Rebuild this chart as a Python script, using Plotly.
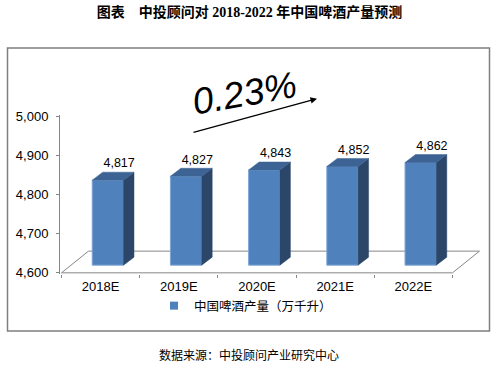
import plotly.graph_objects as go

# ---- data ----
categories = ["2018E", "2019E", "2020E", "2021E", "2022E"]
values = [4817, 4827, 4843, 4852, 4862]
series_name = "中国啤酒产量（万千升）"
growth_label = "0.23%"
y_ticks = [4600, 4700, 4800, 4900, 5000]
title_text = "图表　中投顾问对 2018-2022 年中国啤酒产量预测"
source_text = "数据来源：中投顾问产业研究中心"

# ---- style / geometry constants ----
W, H = 495, 372
ML, MR, MT, MB = 60, 10, 115, 98
PW, PH = W - ML - MR, H - MT - MB
Y0 = 4600
YR = [4597, 5003]
XR = [-0.519, -0.519 + PW / 78.2]
FRONT, SIDE, TOP, EDGE = "#4F81BD", "#2B4668", "#3C6394", "#7EA6D6"
AXC = "#868686"
LIFT = 19.6          # front face lifted (value units)
OFF, BW = -0.107, 0.40
DX, DY = 0.134, 20.4  # bar depth
FDX, FDY = 0.345, 55.4  # floor depth


def px2paper_x(px):
    return (px - ML) / PW


def px2paper_y(py):
    return (H - MB - py) / PH


n = len(categories)
xs = list(range(n))

fig = go.Figure()

# front faces
fig.add_trace(go.Bar(
    x=xs, y=[v - Y0 for v in values], base=Y0 + LIFT,
    width=BW, offset=OFF,
    marker=dict(color=FRONT, line=dict(color=EDGE, width=1)),
    showlegend=False, hoverinfo="skip",
))

# side and top faces
for i, v in enumerate(values):
    xl = xs[i] + OFF
    xr = xl + BW
    b = Y0 + LIFT
    t = v + LIFT
    fig.add_trace(go.Scatter(
        x=[xr, xr + DX, xr + DX, xr, xr], y=[b, b + DY, t + DY, t, b],
        fill="toself", fillcolor=SIDE, mode="lines",
        line=dict(color=SIDE, width=0.5), showlegend=False, hoverinfo="skip"))
    fig.add_trace(go.Scatter(
        x=[xl, xr, xr + DX, xl + DX, xl], y=[t, t, t + DY, t + DY, t],
        fill="toself", fillcolor=TOP, mode="lines",
        line=dict(color=TOP, width=0.5), showlegend=False, hoverinfo="skip"))

# value labels
fig.add_trace(go.Scatter(
    x=[x + 0.237 for x in xs], y=[v + 60 for v in values],
    mode="text", text=[f"{v:,}" for v in values],
    textposition="middle center",
    textfont=dict(family="Liberation Sans, Arial", size=12.5, color="#000"),
    showlegend=False, hoverinfo="skip", cliponaxis=False))

# legend entry
fig.add_trace(go.Scatter(
    x=[None], y=[None], mode="markers", name=series_name,
    marker=dict(symbol="square", size=8, color=FRONT)))

# floor (axis decoration)
x_lo, x_hi = -0.5, n - 0.5
floor_lines = [
    (x_lo, Y0, x_hi, Y0),
    (x_lo + FDX, Y0 + FDY, x_hi + FDX, Y0 + FDY),
    (x_lo, Y0, x_lo + FDX, Y0 + FDY),
    (x_hi, Y0, x_hi + FDX, Y0 + FDY),
]
shapes = []
for (a, b, c, d) in floor_lines:
    shapes.append(dict(type="line", xref="x", yref="y", x0=a, y0=b, x1=c, y1=d,
                       line=dict(color=AXC, width=1), layer="below"))

# outer frame
shapes.append(dict(type="rect", xref="paper", yref="paper",
                   x0=px2paper_x(7.5), x1=px2paper_x(489.5),
                   y0=px2paper_y(331), y1=px2paper_y(48),
                   line=dict(color="#7f7f7f", width=1.5), layer="below"))

annotations = [
    # arrow
    dict(xref="paper", yref="paper", x=px2paper_x(317), y=px2paper_y(98.7),
         ax=-125, ay=34, axref="pixel", ayref="pixel", text="",
         showarrow=True, arrowhead=2, arrowsize=1, arrowwidth=1.3,
         arrowcolor="#000", standoff=0),
    dict(xref="paper", yref="paper", x=px2paper_x(244), y=px2paper_y(93),
         xanchor="center", yanchor="middle",
         text="<i>" + growth_label + "</i>", showarrow=False, textangle=-10,
         font=dict(family="Liberation Sans, Arial", size=37, color="#000",
                   style="italic")),
    dict(xref="paper", yref="paper", x=px2paper_x(249), y=px2paper_y(354),
         xanchor="center", yanchor="middle",
         text=source_text, showarrow=False,
         font=dict(family="Noto Sans CJK SC", size=12, color="#000")),
]

fig.update_layout(
    width=W, height=H,
    margin=dict(l=ML, r=MR, t=MT, b=MB, pad=0, autoexpand=False),
    paper_bgcolor="white", plot_bgcolor="white",
    title=dict(text=title_text, x=249.5 / W, xanchor="center",
               y=1 - 12.5 / H, yanchor="middle", xref="container", yref="container",
               font=dict(family="Liberation Serif, Noto Sans CJK SC", size=14,
                         color="#000", weight="bold")),
    xaxis=dict(range=XR, showgrid=False, zeroline=False, showline=False,
               tickvals=xs, ticktext=categories, ticks="",
               tickfont=dict(family="Liberation Sans, Arial", size=13, color="#000"),
               ticklabelstandoff=3,
               minor=dict(tickvals=[x - 0.5 for x in xs] + [n - 0.5],
                          ticks="outside", ticklen=3, tickcolor=AXC, tickwidth=1)),
    yaxis=dict(range=YR, showgrid=False, zeroline=False, showline=True,
               linecolor=AXC, linewidth=1, ticks="outside", ticklen=3,
               tickcolor=AXC, tickvals=y_ticks, tickformat=",",
               tickfont=dict(family="Liberation Sans, Arial", size=13, color="#000"),
               ticklabelstandoff=5),
    legend=dict(orientation="h", x=px2paper_x(154), xanchor="left",
                y=px2paper_y(306), yanchor="middle",
                font=dict(family="Noto Sans CJK SC", size=12.5, color="#000"),
                bgcolor="rgba(0,0,0,0)"),
    shapes=shapes, annotations=annotations,
)

fig.write_html("out.html", config={"displayModeBar": False},
               post_script="document.body.style.margin='0px';")
